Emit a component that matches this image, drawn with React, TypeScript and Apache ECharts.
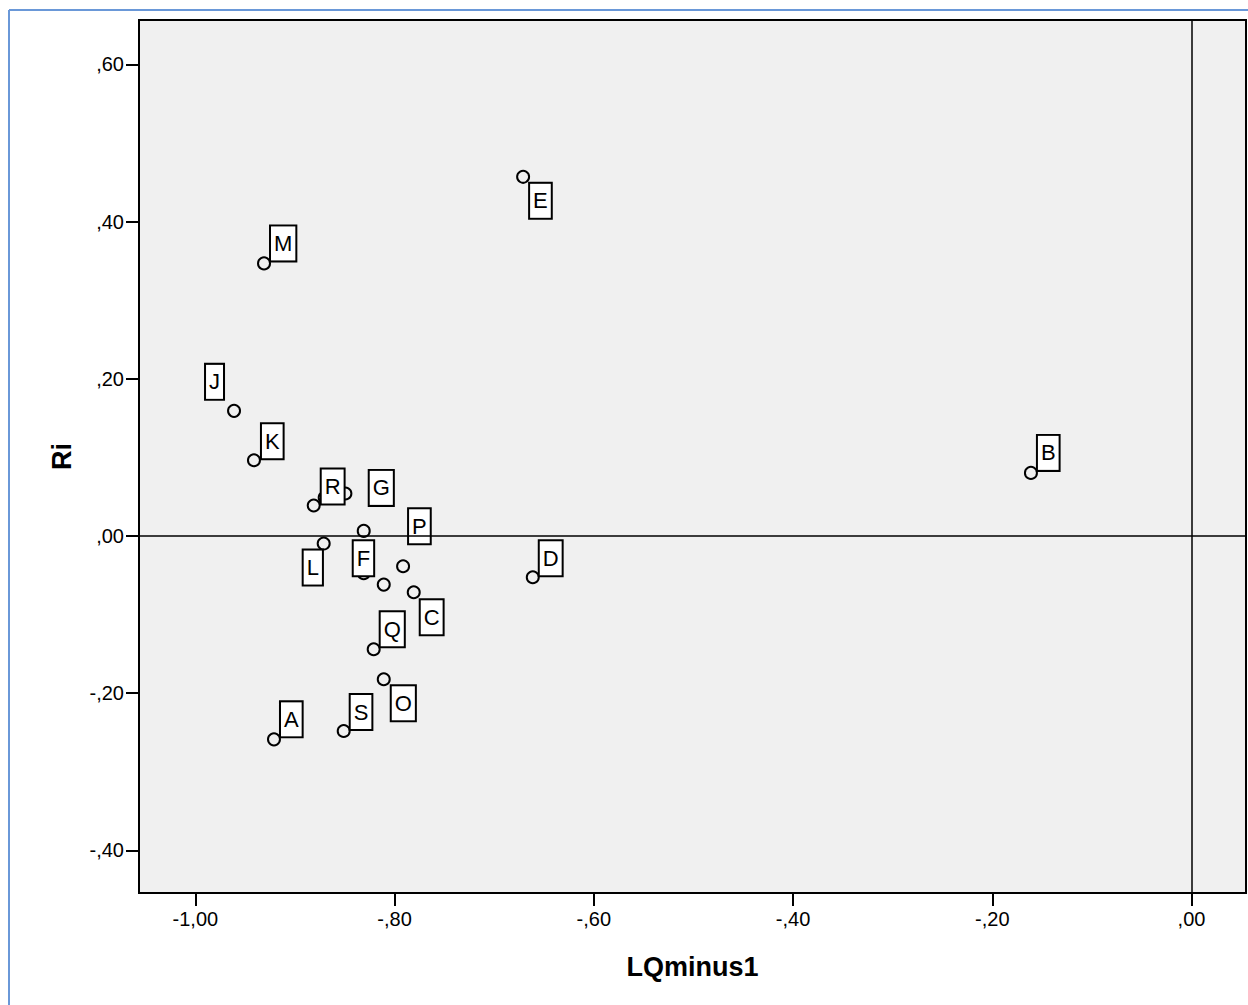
import React, { useEffect, useRef } from 'react';
import * as echarts from 'echarts';

const pointNames = ['A', 'B', 'C', 'D', 'E', 'F', 'G', 'H', 'I', 'J', 'K', 'L', 'M', 'N', 'O', 'P', 'Q', 'R', 'S'];
const lqMinus1 = [-0.9211, -0.1612, -0.7808, -0.6613, -0.671, -0.831, -0.831, -0.8702, -0.8494, -0.9612, -0.9412, -0.8712, -0.9311, -0.8109, -0.8109, -0.7915, -0.821, -0.8812, -0.8511];
const riValues = [-0.2588, 0.0802, -0.0717, -0.0526, 0.4569, -0.0475, 0.0064, 0.0489, 0.054, 0.1591, 0.0963, -0.0097, 0.3467, -0.0619, -0.1824, -0.0386, -0.1442, 0.0387, -0.2482];
// which point labels are visible (SPSS hides overlapping ones)
const shownLabels = [true, true, true, true, true, true, true, false, false, true, true, true, true, false, true, true, true, true, true];
// label box top-left offset from point centre (layout only)
const labelOffsets: [number, number][] = [
  [8, -36], [8, -36], [8, 9], [8, -35], [8, 8], [-9, -31], [7, -59], [0, 0], [0, 0], [-27, -45],
  [9, -35], [-19, 8], [8, -36], [0, 0], [9, 8], [7, -56], [8, -36], [9, -35], [8, -35],
];

const xTickValues = [-1, -0.8, -0.6, -0.4, -0.2, 0];
const xTickLabels = ['-1,00', '-,80', '-,60', '-,40', '-,20', ',00'];
const yTickValues = [-0.4, -0.2, 0, 0.2, 0.4, 0.6];
const yTickLabels = ['-,40', '-,20', ',00', ',20', ',40', ',60'];

const FONT = "'Liberation Sans', Arial, sans-serif";
const SYMBOL_SIZE = 12;

function lookup(v: number, values: number[], labels: string[]) {
  let best = 0;
  for (let i = 1; i < values.length; i++) {
    if (Math.abs(values[i] - v) < Math.abs(values[best] - v)) best = i;
  }
  return labels[best];
}

export default function App() {
  const ref = useRef<HTMLDivElement>(null);
  useEffect(() => {
    if (!ref.current) return;
    const chart = echarts.init(ref.current, undefined, { renderer: 'svg', width: 1248, height: 1005 });
    const half = SYMBOL_SIZE / 2;
    const data = lqMinus1.map((x, i) => ({
      value: [x, riValues[i]],
      name: pointNames[i],
      label: shownLabels[i]
        ? { show: true, position: [half + labelOffsets[i][0], half + labelOffsets[i][1]] }
        : { show: false },
    }));
    chart.setOption({
      animation: false,
      backgroundColor: '#ffffff',
      graphic: [
        { type: 'line', shape: { x1: 9, y1: 10, x2: 1248, y2: 10 }, style: { stroke: '#6a98d8', lineWidth: 2 } },
        { type: 'line', shape: { x1: 9, y1: 10, x2: 9, y2: 1005 }, style: { stroke: '#6a98d8', lineWidth: 2 } },
      ],
      grid: {
        left: 139, right: 2, top: 20, bottom: 112,
        show: true, backgroundColor: '#f0f0f0', borderColor: '#000', borderWidth: 2,
        containLabel: false, outerBoundsMode: 'none',
      },
      xAxis: {
        type: 'value', min: -1.0566, max: 0.0547,
        splitLine: { show: false },
        axisLine: { show: true, onZero: false, lineStyle: { color: '#000', width: 2 } },
        axisTick: { show: true, customValues: xTickValues, length: 13, lineStyle: { color: '#000', width: 2 } },
        axisLabel: {
          customValues: xTickValues, formatter: (v: number) => lookup(v, xTickValues, xTickLabels),
          color: '#000', fontSize: 20, fontFamily: FONT, margin: 16,
        },
        name: 'LQminus1', nameLocation: 'middle', nameGap: 60,
        nameTextStyle: { color: '#000', fontSize: 27, fontWeight: 'bold', fontFamily: FONT },
      },
      yAxis: {
        type: 'value', min: -0.4543, max: 0.6564,
        splitLine: { show: false },
        axisLine: { show: true, onZero: false, lineStyle: { color: '#000', width: 2 } },
        axisTick: { show: true, customValues: yTickValues, length: 13, lineStyle: { color: '#000', width: 2 } },
        axisLabel: {
          customValues: yTickValues, formatter: (v: number) => lookup(v, yTickValues, yTickLabels),
          color: '#000', fontSize: 20, fontFamily: FONT, margin: 15,
        },
        name: 'Ri', nameLocation: 'middle', nameGap: 64,
        nameTextStyle: { color: '#000', fontSize: 27, fontWeight: 'bold', fontFamily: FONT },
      },
      series: [
        {
          type: 'scatter', data: [], z: 1, silent: true,
          markLine: {
            silent: true, symbol: ['none', 'none'], label: { show: false },
            lineStyle: { color: '#000', width: 1.5, type: 'solid', opacity: 1 },
            data: [{ xAxis: 0 }, { yAxis: 0 }],
          },
        },
        {
          type: 'scatter', z: 3, data,
          symbol: 'circle', symbolSize: SYMBOL_SIZE,
          itemStyle: { color: 'rgba(0,0,0,0)', borderColor: '#000', borderWidth: 2, opacity: 1 },
          label: {
            show: true, align: 'left', verticalAlign: 'top',
            formatter: (p: any) => p.name,
            color: '#000', fontSize: 22, lineHeight: 24, fontFamily: FONT, opacity: 1,
            backgroundColor: '#ffffff', borderColor: '#000', borderWidth: 2, padding: [5, 3, 5, 3],
          },
          labelLayout: { hideOverlap: false },
        },
      ],
    });
    return () => chart.dispose();
  }, []);
  return <div ref={ref} style={{ position: 'fixed', left: 0, top: 0, width: 1248, height: 1005, background: '#fff' }} />;
}
